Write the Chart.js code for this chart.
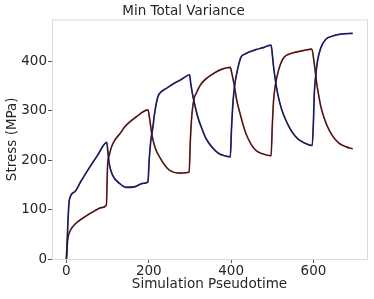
<!DOCTYPE html>
<html>
<head>
<meta charset="utf-8">
<script src="https://cdn.jsdelivr.net/npm/chart.js@4/dist/chart.umd.min.js"></script>
<style>
  html, body { margin: 0; padding: 0; background: #fff; }
  #wrap { position: relative; width: 374px; height: 299px; }
</style>
</head>
<body>
<div id="wrap"><canvas id="chart"></canvas></div>
<script>
// series A (blue) and series B (red), pseudotime vs stress
const timeA = [0, 7, 20, 35, 52, 75, 98, 101, 104, 112, 129, 145, 165, 185, 198, 201, 205, 210, 214, 222, 232, 242, 260, 280, 299, 302, 306, 311, 320, 330, 339, 355, 371, 385, 398, 401, 404, 408, 416, 424, 434, 444, 460, 478, 497, 500, 503, 507, 513, 522, 533, 546, 561, 578, 597, 600, 602, 606, 610, 618, 630, 645, 663, 695];
const stressA = [0, 119, 136, 157, 180, 209, 236, 215, 193, 170, 153, 145, 146, 153, 156, 200, 240, 267, 294, 328, 340, 345, 355, 364, 373, 355, 335, 315, 285, 262, 244, 225, 213, 209, 207, 265, 310, 348, 385, 409, 415, 419, 424, 428, 433, 415, 390, 365, 335, 305, 281, 260, 244, 235, 230, 280, 335, 375, 402, 428, 445, 451, 455, 457];

const timeB = [0, 3, 8, 15, 30, 44, 70, 85, 97, 100, 104, 110, 117, 133, 141, 170, 198, 202, 207, 213, 220, 226, 238, 250, 274, 298, 301, 305, 310, 315, 325, 339, 360, 380, 398, 402, 408, 414, 420, 428, 436, 448, 460, 476, 497, 500, 503, 507, 513, 520, 529, 545, 557, 575, 596, 602, 608, 613, 618, 627, 638, 650, 663, 680, 695];
const stressB = [0, 38, 55, 65, 77, 85, 98, 104, 109, 190, 210, 228, 240, 257, 267, 288, 302, 285, 255, 232, 216, 207, 191, 180, 174, 176, 240, 295, 325, 335, 352, 365, 377, 385, 388, 375, 350, 320, 300, 275, 254, 233, 220, 213, 209, 270, 320, 350, 375, 395, 409, 416, 419, 422, 425, 395, 355, 330, 308, 283, 261, 245, 234, 227, 223];

const xTicks = [0, 200, 400, 600];
const yTicks = [0, 100, 200, 300, 400];

const toPoints = (xs, ys) => xs.map((x, i) => ({ x, y: ys[i] }));

const font = { family: "'DejaVu Sans', sans-serif", size: 13.5 };
const titleFont = { family: "'DejaVu Sans', sans-serif", size: 13.5 };

// light grey box round the plot area (matplotlib spines)
const frame = {
  id: "frame",
  beforeDatasetsDraw(chart) {
    const { ctx, chartArea: a } = chart;
    ctx.save();
    ctx.strokeStyle = "#dcdcdc";
    ctx.lineWidth = 1;
    ctx.strokeRect(a.left + 0.5, a.top + 0.5, a.right - a.left, a.bottom - a.top);
    ctx.restore();
  },
};

// lower order is drawn on top
const line = (data, color, width, order) => ({
  data,
  order,
  borderColor: color,
  borderWidth: width,
  pointRadius: 0,
  fill: false,
  cubicInterpolationMode: "monotone",
});

new Chart(document.getElementById("chart"), {
  type: "line",
  data: {
    datasets: [
      line(toPoints(timeA, stressA), "#1e1e1e", 1.1, 0),
      line(toPoints(timeB, stressB), "#1e1e1e", 1.1, 0),
      line(toPoints(timeA, stressA), "#3535e0", 1.7, 1),
      line(toPoints(timeB, stressB), "#dd3c3c", 1.7, 1),
    ],
  },
  plugins: [frame],
  options: {
    responsive: true,
    maintainAspectRatio: false,
    animation: false,
    layout: { padding: { right: 7 } },
    plugins: {
      legend: { display: false },
      tooltip: { enabled: false },
      title: {
        display: true,
        text: "Min Total Variance",
        color: "#262626",
        font: { ...titleFont, weight: "normal", lineHeight: 1 },
        padding: { top: 5, bottom: 1 },
      },
    },
    scales: {
      x: {
        type: "linear",
        min: -35,
        max: 730,
        afterFit: (s) => { s.height = 40; },
        afterBuildTicks: (s) => { s.ticks = xTicks.map((v) => ({ value: v })); },
        grid: { drawOnChartArea: false, tickLength: 4, tickColor: "#555", color: "#555" },
        border: { color: "#dcdcdc" },
        ticks: { color: "#262626", font, padding: 0, maxRotation: 0 },
        title: {
          display: true,
          text: "Simulation Pseudotime",
          color: "#262626",
          font: titleFont,
          padding: { top: 0, bottom: 6 },
        },
      },
      y: {
        min: 0,
        max: 485,
        afterFit: (s) => { s.width = 52; },
        afterBuildTicks: (s) => { s.ticks = yTicks.map((v) => ({ value: v })); },
        grid: { drawOnChartArea: false, tickLength: 4, tickColor: "#555", color: "#555" },
        border: { color: "#dcdcdc" },
        ticks: { color: "#262626", font, padding: 1 },
        title: {
          display: true,
          text: "Stress (MPa)",
          color: "#262626",
          font: titleFont,
          padding: { top: 4, bottom: 0 },
        },
      },
    },
  },
});
</script>
</body>
</html>
